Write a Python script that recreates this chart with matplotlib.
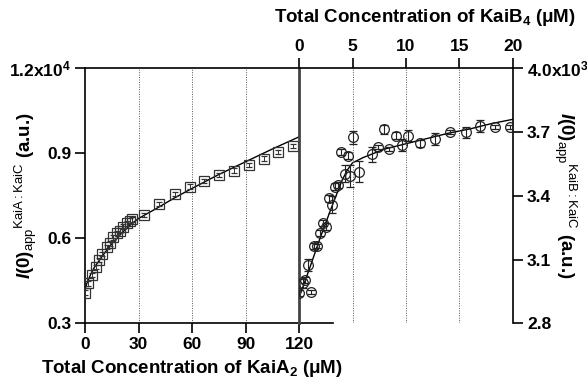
import matplotlib.pyplot as plt

plt.rcParams['font.family'] = 'Liberation Sans'
plt.rcParams['mathtext.fontset'] = 'custom'
plt.rcParams['mathtext.rm'] = 'Liberation Sans'
plt.rcParams['mathtext.bf'] = 'Liberation Sans:bold'
plt.rcParams['mathtext.it'] = 'Liberation Sans:bold:italic'

# KaiA2 titration (left panel), intensity in units of 1e4
kaia_x = [0, 1.9, 3.7, 6.0, 8.0, 9.7, 12.2, 14.0, 15.9, 17.8, 19.7, 21.5, 23.4, 25.3, 26.6,
          33.3, 41.5, 50.2, 58.6, 66.9, 75.3, 83.7, 92.0, 100.4, 108.4, 116.7]
kaia_y = [0.408, 0.441, 0.471, 0.498, 0.523, 0.545, 0.570, 0.582, 0.603, 0.618, 0.627, 0.641,
          0.653, 0.662, 0.667, 0.682, 0.721, 0.756, 0.782, 0.802, 0.823, 0.839, 0.859, 0.881,
          0.905, 0.925]
kaia_fit_x = [0, 1, 3, 5, 10, 15, 20, 25, 30, 40, 50, 60, 75, 90, 105, 120]
kaia_fit_y = [0.42, 0.44, 0.47, 0.495, 0.54, 0.58, 0.615, 0.645, 0.67, 0.705, 0.742, 0.776,
              0.825, 0.870, 0.915, 0.958]

# KaiB4 titration (right panel), intensity in units of 1e3
kaib_x = [0, 0.34, 0.56, 0.87, 1.12, 1.43, 1.71, 1.97, 2.28, 2.53, 2.81, 3.06, 3.37, 3.68,
          3.93, 4.30, 4.56, 4.77, 5.08, 5.64, 6.8, 7.36, 7.95, 8.45, 9.05, 9.61, 10.17, 11.3,
          12.73, 14.13, 15.57, 16.94, 18.35, 19.75]
kaib_y = [2.944, 2.988, 3.004, 3.074, 2.946, 3.165, 3.165, 3.226, 3.271, 3.255, 3.388, 3.357,
          3.443, 3.451, 3.605, 3.503, 3.589, 3.493, 3.675, 3.513, 3.595, 3.631, 3.713, 3.620,
          3.683, 3.639, 3.683, 3.647, 3.667, 3.702, 3.699, 3.728, 3.725, 3.725]
kaib_err = [0.015, 0.02, 0.015, 0.03, 0.01, 0.015, 0.01, 0.015, 0.015, 0.015, 0.015, 0.04,
            0.015, 0.015, 0.015, 0.04, 0.015, 0.05, 0.03, 0.05, 0.035, 0.01, 0.02, 0.008,
            0.015, 0.03, 0.025, 0.015, 0.03, 0.01, 0.025, 0.03, 0.01, 0.01]
kaib_fit_x = [0, 1, 2, 3, 4, 4.5, 5, 6, 7, 8, 10, 12, 14, 16, 18, 20]
kaib_fit_y = [2.92, 3.06, 3.205, 3.34, 3.47, 3.52, 3.555, 3.58, 3.60, 3.62, 3.645, 3.67,
              3.695, 3.715, 3.74, 3.76]

W, H = 587, 387
fig = plt.figure(figsize=(W / 100, H / 100), dpi=100)
b = (H - 323.3) / H
h = 255 / H
axL = fig.add_axes([85 / W, b, 214 / W, h])
axR = fig.add_axes([299 / W, b, 214 / W, h])
ymid = b + h / 2

lw = 1.2
tickfont = dict(fontsize=12.5, fontweight='bold')
labfont = dict(fontsize=13.5, fontweight='bold')

# left panel
axL.errorbar(kaia_x, kaia_y, yerr=[0.008] * len(kaia_x), fmt='s', ms=6.5, mfc='none',
             mec='#333333', mew=0.9, ecolor='#333333', elinewidth=0.7, capsize=2.5, zorder=3)
axL.plot(kaia_fit_x, kaia_fit_y, color='black', lw=1.0)
axL.set_xlim(0, 120)
axL.set_ylim(0.3, 1.2)
axL.set_xticks([0, 30, 60, 90, 120])
axL.set_xticklabels(['0', '30', '60', '90', '120'], **tickfont)
axL.set_yticks([0.3, 0.6, 0.9, 1.2])
axL.set_yticklabels(['0.3', '0.6', '0.9', r'1.2x10$^{\mathbf{4}}$'], **tickfont)
for x in [30, 60, 90]:
    axL.axvline(x, color='#555555', lw=0.7, ls=(0, (1, 1.5)))
axL.spines['right'].set_visible(False)
for s in ['left', 'bottom', 'top']:
    axL.spines[s].set_linewidth(lw)
axL.tick_params(direction='out', length=7, width=lw, top=False, right=False, pad=3)
axL.plot([120, 139], [0.3, 0.3], color='black', lw=lw, clip_on=False)
axL.set_xlabel(r'Total Concentration of KaiA$_{\mathbf{2}}$ ($\mathbf{\mu}$M)',
               labelpad=4, **labfont)
fig.text(13 / W, ymid, r'$\mathit{I}\mathbf{(0)}_{\mathrm{app}}{}^{\mathrm{KaiA{:}KaiC}}$ (a.u.)',
         rotation=90, ha='left', va='center', **labfont)

# right panel
axR.patch.set_alpha(0)
axR.errorbar(kaib_x, kaib_y, yerr=kaib_err, fmt='o', ms=7, mfc='none', mec='#222222',
             mew=0.9, ecolor='#222222', elinewidth=0.8, capsize=3, zorder=3)
axR.plot(kaib_fit_x, kaib_fit_y, color='black', lw=1.0)
axR.set_xlim(0, 20)
axR.set_ylim(2.8, 4.0)
axR.xaxis.tick_top()
axR.yaxis.tick_right()
axR.set_xticks([0, 5, 10, 15, 20])
axR.set_xticklabels(['0', '5', '10', '15', '20'], **tickfont)
axR.set_yticks([2.8, 3.1, 3.4, 3.7, 4.0])
axR.set_yticklabels(['2.8', '3.1', '3.4', '3.7', r'4.0x10$^{\mathbf{3}}$'], **tickfont)
for x in [5, 10, 15]:
    axR.axvline(x, color='#555555', lw=0.7, ls=(0, (1, 1.5)))
axR.spines['bottom'].set_visible(False)
axR.spines['left'].set_linewidth(2)
axR.spines['left'].set_color('#444444')
for s in ['right', 'top']:
    axR.spines[s].set_linewidth(lw)
axR.tick_params(direction='out', length=7, width=lw, bottom=False, left=False, pad=3)
fig.text(425 / W, 1 - 17 / H, r'Total Concentration of KaiB$_{\mathbf{4}}$ ($\mathbf{\mu}$M)',
         ha='center', va='center', **labfont)
fig.text(552 / W, ymid, r'$\mathit{I}\mathbf{(0)}_{\mathrm{app}}{}^{\mathrm{KaiB{:}KaiC}}$ (a.u.)',
         rotation=270, ha='left', va='center', **labfont)

fig.savefig('out.png', dpi=100)
